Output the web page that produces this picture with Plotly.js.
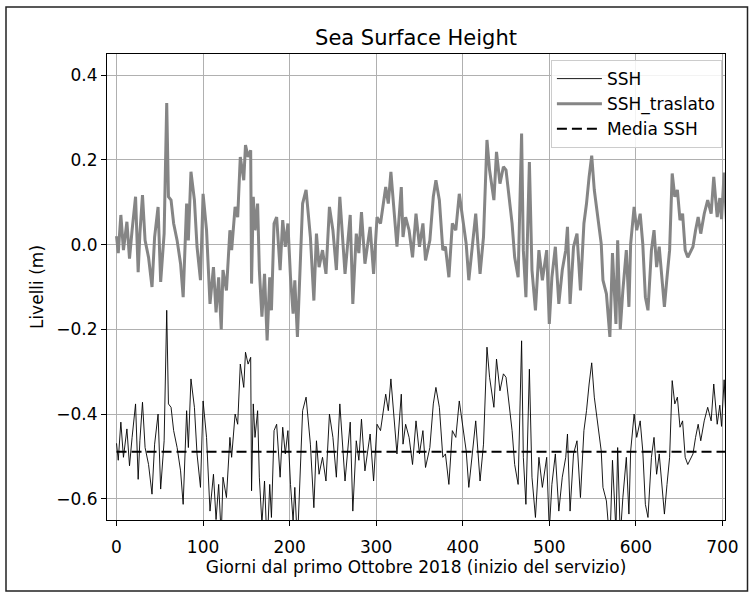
<!DOCTYPE html>
<html><head><meta charset="utf-8">
<script src="https://cdn.plot.ly/plotly-3.0.1.min.js"></script>
<style>body{margin:0;background:#fff}</style>
</head><body><div id="chart" style="width:754px;height:596px"></div>
<script>
// Days since 1 October 2018
const days = [0,2,5,8,12,15,18,22,25,27,30,33,37,41,44,48,51,55,58,60,63,66,70,74,77,81,83,86,90,93,97,100,104,108,112,115,118,121,123,127,131,133,137,140,143,147,149,152,155,156,158,160,163,165,168,171,174,177,179,182,185,189,192,195,198,201,204,206,209,212,215,219,224,228,231,234,238,242,246,250,254,258,261,264,270,273,277,280,283,287,293,297,301,305,311,314,317,320,324,329,331,334,338,342,346,350,354,357,362,366,369,373,377,380,384,388,392,396,400,404,407,411,415,420,424,428,431,436,439,443,447,450,453,457,460,464,468,470,473,477,480,484,488,492,497,500,503,507,511,515,519,521,524,528,532,536,540,543,546,549,552,556,560,562,566,570,573,577,579,582,585,589,592,594,598,601,605,608,611,614,618,621,624,627,630,633,636,639,642,645,648,651,654,657,660,662,666,669,672,675,679,683,687,690,694,697,699,702,705];
// SSH_traslato (m)
const sshTraslato = [0.02,-0.02,0.07,-0.013,0.054,-0.033,0.034,0.113,-0.065,0.026,0.117,0.01,-0.03,-0.10,0.018,0.089,-0.088,0.026,0.334,0.113,0.105,0.05,0.01,-0.045,-0.124,0.097,0.01,0.172,0.105,-0.005,-0.084,0.12,0.034,-0.14,-0.053,-0.16,-0.077,-0.2,-0.06,-0.108,0.034,-0.013,0.089,0.065,0.207,0.152,0.235,0.207,0.223,-0.092,0.113,0.034,0.097,-0.06,-0.17,-0.069,-0.226,-0.077,-0.155,0.05,0.065,-0.06,0.058,-0.005,0.05,-0.077,-0.163,-0.084,-0.218,-0.077,0.097,0.129,0.018,-0.132,0.026,-0.053,-0.013,-0.069,0.089,0.034,-0.06,0.113,0.018,-0.069,0.07,-0.14,0.026,-0.02,0.077,-0.045,0.042,-0.069,0.065,0.05,0.136,0.097,0.172,0.089,-0.005,0.136,0.018,0.065,0.034,-0.03,0.073,-0.005,0.05,-0.037,0.01,0.113,0.152,0.105,-0.013,-0.005,-0.077,0.05,0.034,0.12,0.058,0.002,-0.084,0.002,0.073,-0.069,0.018,0.247,0.176,0.105,0.219,0.144,0.184,0.176,0.12,0.05,-0.03,-0.077,0.262,-0.013,-0.124,0.195,-0.06,-0.155,-0.013,-0.084,-0.013,-0.187,-0.077,-0.005,-0.14,-0.06,-0.013,0.042,-0.14,-0.005,0.026,-0.108,0.05,0.097,0.16,0.21,0.129,0.065,0.002,-0.084,-0.116,-0.218,-0.02,-0.187,0.01,-0.2,-0.108,-0.013,-0.147,0.002,0.089,0.034,0.073,0.002,-0.124,-0.155,-0.013,0.034,-0.053,-0.005,-0.077,-0.147,-0.077,-0.013,0.168,0.113,0.129,0.058,0.073,-0.013,-0.03,-0.021,-0.005,0.034,0.065,0.026,0.073,0.105,0.073,0.16,0.065,0.11,0.06,0.17,0.04];
// Media SSH (m)
const mediaSSH = -0.489;
// SSH is the translated series shifted back by its mean
const ssh = sshTraslato.map(v => v + mediaSSH);

const font = {family: 'DejaVu Sans, sans-serif', size: 17, color: '#000'};

const traces = [
  {x: days, y: ssh, type: 'scatter', mode: 'lines', name: 'SSH',
   line: {color: '#000000', width: 0.9}},
  {x: days, y: sshTraslato, type: 'scatter', mode: 'lines', name: 'SSH_traslato',
   line: {color: '#858585', width: 3}},
  {x: [days[0], days[days.length - 1]], y: [mediaSSH, mediaSSH], type: 'scatter', mode: 'lines',
   name: 'Media SSH', line: {color: '#000000', width: 2, dash: '10px,5px'}}
];

const axisCommon = {
  showgrid: true, gridcolor: '#b0b0b0', gridwidth: 1,
  showline: true, mirror: true, linecolor: '#000', linewidth: 1,
  ticks: 'outside', ticklen: 5, tickcolor: '#000', tickwidth: 1,
  zeroline: false, tickfont: font
};

const layout = {
  width: 754, height: 596,
  margin: {l: 107, r: 29, t: 54, b: 76},
  paper_bgcolor: '#fff', plot_bgcolor: '#fff',
  font: font,
  title: {text: 'Sea Surface Height', font: {family: font.family, size: 21, color: '#000'},
          x: 0.5, xref: 'paper', y: 1 - 38 / 596, yref: 'container', yanchor: 'middle'},
  xaxis: Object.assign({}, axisCommon, {
    range: [-11, 703], tickvals: [0, 100, 200, 300, 400, 500, 600, 700],
    ticklabelstandoff: 7,
    title: {text: 'Giorni dal primo Ottobre 2018 (inizio del servizio)', font: font, standoff: 1}
  }),
  yaxis: Object.assign({}, axisCommon, {
    range: [-0.65, 0.45], tickvals: [-0.6, -0.4, -0.2, 0.0, 0.2, 0.4], tickformat: '.1f',
    title: {text: 'Livelli (m)', font: font, standoff: 8}
  }),
  showlegend: true,
  legend: {x: 0.995, xanchor: 'right', y: 0.987, yanchor: 'top', itemwidth: 45,
           bgcolor: 'rgba(255,255,255,0.85)', bordercolor: '#cccccc', borderwidth: 1,
           font: font},
  shapes: [{type: 'rect', xref: 'paper', yref: 'paper',
            x0: (6 - 107) / 618, x1: (747.5 - 107) / 618,
            y0: (520 - 591) / 466, y1: (520 - 7) / 466,
            line: {color: '#222', width: 1.5}, fillcolor: 'rgba(0,0,0,0)', layer: 'above'}]
};

Plotly.newPlot('chart', traces, layout, {staticPlot: true, displayModeBar: false});
</script>
</body></html>
